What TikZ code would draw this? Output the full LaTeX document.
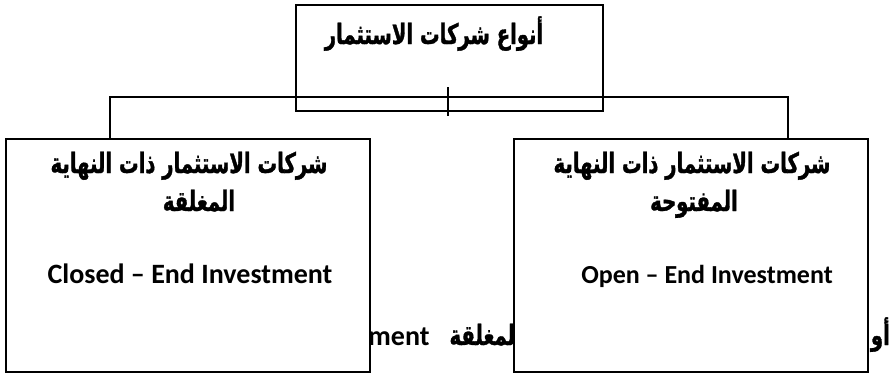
\documentclass[tikz,border=0pt]{standalone}
\usepackage{fontspec}
\setmainfont{Carlito}
\newfontfamily\arabicfont[Script=Arabic,FakeStretch=0.7,FakeBold=1.2]{DejaVu Sans}
\TeXXeTstate=1
\begin{document}
\begin{tikzpicture}[x=1pt,y=-1pt,
  box/.style={draw=black,line width=2pt,fill=white,rectangle,inner sep=0pt},
  conn/.style={draw=black,line width=2pt},
  artxt/.style={inner sep=0pt,anchor=base,font=\arabicfont\bfseries\fontsize{28}{34}\selectfont},
  entxt/.style={inner sep=0pt,anchor=base,font=\fontsize{28}{32}\selectfont\bfseries}]
\useasboundingbox (0,0) rectangle (892,373);
\fill[white] (0,0) rectangle (892,373);

% text of the paragraph line that runs behind the two lower boxes
\node[entxt,anchor=base west] (bgen) at (368,345) {ment};
\node[artxt,anchor=base east] (bgar) at (522,345) {\beginR المغلقة\endR};
\node[artxt,anchor=base east] (bgor) at (890,345) {\beginR أو\endR};

% connector points
\coordinate (hl) at (110,97);
\coordinate (hr) at (788,97);
\coordinate (tka) at (448,87);
\coordinate (tkb) at (448,116);

% boxes
\node[box,minimum width=307pt,minimum height=106pt] (top) at (449.5,58) {};
\node[box,minimum width=364pt,minimum height=233pt] (left) at (188,255.5) {};
\node[box,minimum width=354pt,minimum height=233pt] (right) at (691,255.5) {};

\draw[conn] (left.north -| hl) -- (hl) -- (hr) -- (right.north -| hr);
\draw[conn] (tka) -- (tkb);

% labels
\node[artxt] (ttop) at (434,44) {\beginR أنواع شركات الاستثمار\endR};

\node[artxt] (l1) at (189,173) {\beginR شركات الاستثمار ذات النهاية\endR};
\node[artxt] (l2) at (199,211) {\beginR المغلقة\endR};
\node[entxt] (l3) at (190,283) {Closed – End Investment};

\node[artxt] (r1) at (692,173) {\beginR شركات الاستثمار ذات النهاية\endR};
\node[artxt] (r2) at (694,211) {\beginR المفتوحة\endR};
\node[entxt,font=\fontsize{26}{30}\selectfont\bfseries] (r3) at (707,283) {Open – End Investment};
\end{tikzpicture}
\end{document}
